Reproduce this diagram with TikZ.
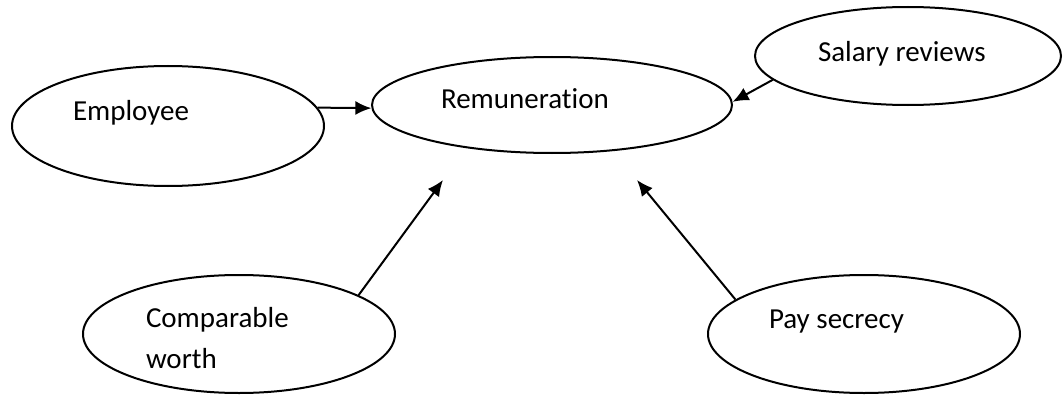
\documentclass[tikz,border=0pt]{standalone}
\usepackage{fontspec}
\setmainfont[Ligatures=NoCommon]{Carlito}
\usetikzlibrary{arrows.meta, positioning, shapes.geometric}

\begin{document}
\begin{tikzpicture}[x=1pt,y=-1pt,line width=2pt,>={Latex[length=16pt,width=14pt]}]
  \tikzstyle{bubble}=[ellipse,draw,inner sep=0pt,minimum width=312pt,minimum height=120pt]
  \tikzstyle{caption}=[inner sep=0pt,anchor=base west,font=\fontsize{29}{41}\selectfont]

  \useasboundingbox (0,0) rectangle (1063,396);

  \node[bubble]                                         (emp) at (168,126) {};
  \node[bubble,minimum width=360pt,minimum height=96pt] (rem) at (552,105) {};
  \node[bubble,minimum width=306pt,minimum height=98pt] (sal) at (908,56)  {};
  \node[bubble,minimum height=118pt]                    (cw)  at (239,334) {};
  \node[bubble,minimum height=118pt]                    (ps)  at (864,334) {};

  \node[caption]                        (emp-txt) at (72,120)  {Employee};
  \node[caption]                        (rem-txt) at (440,108) {Remuneration};
  \node[caption]                        (sal-txt) at (817,62)  {Salary reviews};
  \node[caption,align=left,anchor=west] (cw-txt)  at (145,338) {Comparable\\worth};
  \node[caption]                        (ps-txt)  at (768,328) {Pay secrecy};

  \coordinate (rem-cw) at (443,180);
  \coordinate (rem-ps) at (637,180);

  \path[->]
  (emp.7)   edge (rem.181)
  (sal.190) edge (rem.1)
  (cw.18)   edge (rem-cw)
  (ps.165)  edge (rem-ps)
  ;
\end{tikzpicture}
\end{document}
